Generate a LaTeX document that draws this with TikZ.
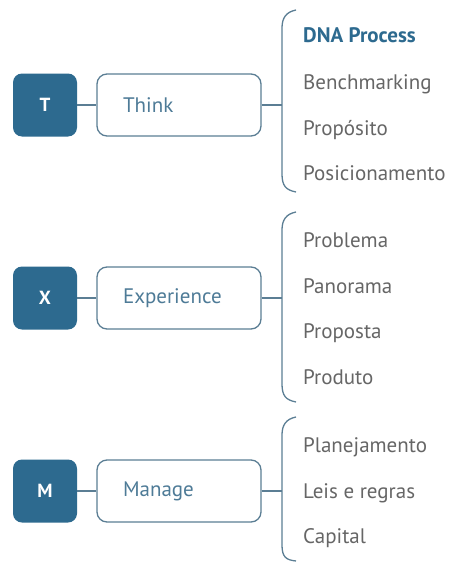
\documentclass[tikz,border=0pt]{standalone}
\usepackage{fontspec}
\setmainfont{PT Sans}
\definecolor{dkblue}{HTML}{2D6A8F}
\definecolor{lnblue}{HTML}{5B7E94}
\definecolor{lbltxt}{HTML}{4E7B97}
\definecolor{itemgray}{HTML}{666666}
\begin{document}
\begin{tikzpicture}[x=1pt,y=-1pt,
  sq/.style={fill=dkblue,draw=none,rounded corners=9pt,minimum width=64pt,minimum height=63pt,text=white,font=\fontsize{19}{22}\selectfont\bfseries,inner sep=0pt},
  lbox/.style={draw=lnblue,line width=1.3pt,rounded corners=10pt,minimum height=62pt,text width=112pt,inner xsep=26pt,align=left,text=lbltxt,font=\fontsize{21}{25}\selectfont},
  conn/.style={draw=lnblue,line width=1.3pt},
  br/.style={draw=lnblue,line width=1.3pt},
  item/.style={anchor=base west,text=itemgray,font=\fontsize{21}{25}\selectfont,inner sep=0pt},
  hitem/.style={item,text=dkblue,font=\fontsize{21}{25}\selectfont\bfseries}]
\useasboundingbox[fill=white] (0,0) rectangle (458,562);
% Think
\node[sq] (t) at (45,105) {T};
\node[lbox] (think) at (179,105) {Think};
\coordinate (tb) at (282,105);
\draw[conn] (t) -- (think);
\draw[conn] (think) -- (tb);
\draw[br] (296,10) .. controls (286,12) and (282,18) .. (282,28) -- (282,174) .. controls (282,186) and (286,190) .. (296,192);
\node[hitem] (dna) at (303,42) {DNA Process};
\node[item] (bench) at (303,89) {Benchmarking};
\node[item] (prop) at (303,135) {Propósito};
\node[item] (pos) at (303,180) {Posicionamento};
% Experience
\node[sq] (x) at (45,298) {X};
\node[lbox] (exp) at (179,298) {Experience};
\coordinate (xb) at (282,298);
\draw[conn] (x) -- (exp);
\draw[conn] (exp) -- (xb);
\draw[br] (296,212) .. controls (286,214) and (282,220) .. (282,230) -- (282,384) .. controls (282,396) and (286,400) .. (296,402);
\node[item] (probl) at (303,247) {Problema};
\node[item] (pan) at (303,293) {Panorama};
\node[item] (propo) at (303,338) {Proposta};
\node[item] (prod) at (303,384) {Produto};
% Manage
\node[sq] (m) at (45,491) {M};
\node[lbox] (man) at (179,491) {Manage};
\coordinate (mb) at (282,491);
\draw[conn] (m) -- (man);
\draw[conn] (man) -- (mb);
\draw[br] (296,417) .. controls (286,419) and (282,425) .. (282,435) -- (282,545) .. controls (282,557) and (286,560) .. (296,561);
\node[item] (plan) at (303,452) {Planejamento};
\node[item] (leis) at (303,498) {Leis e regras};
\node[item] (cap) at (303,543) {Capital};
\end{tikzpicture}
\end{document}
